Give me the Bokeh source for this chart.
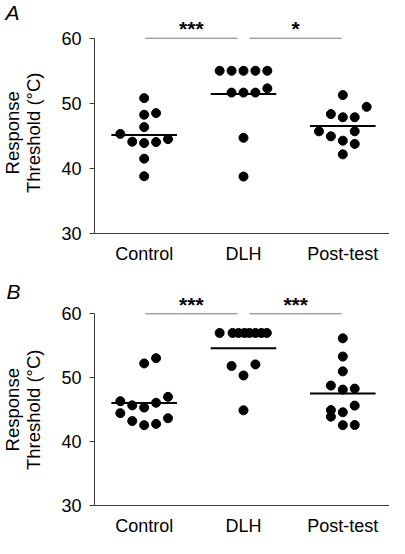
from bokeh.plotting import figure
from bokeh.models import Range1d, FixedTicker, Label
from bokeh.layouts import column, row
from bokeh.core.properties import value
from bokeh.embed import file_html
from bokeh.resources import INLINE

# ---------------- data ----------------
groups = ["Control", "DLH", "Post-test"]
y_ticks = [30, 40, 50, 60]
y_title = ["Response", "Threshold (°C)"]

# Panel A
a_ctrl = [50.8, 48.25, 48.5, 46.35, 45.3, 44.1, 43.9, 44.05, 44.5, 41.5, 38.8]
a_ctrl_jit = [0, 0, 0.12, 0, -0.24, -0.12, 0, 0.12, 0.24, 0, 0]
a_dlh = [55, 55, 55, 55, 55, 51.65, 51.65, 51.65, 52.3, 44.7, 38.75]
a_dlh_jit = [-0.24, -0.12, 0, 0.12, 0.24, -0.12, 0, 0.12, 0.24, 0, 0]
a_post = [51.27, 49.46, 48.35, 47.86, 47.86, 45.7, 45.7, 44.93, 44.26, 43.77, 42.16]
a_post_jit = [0, 0.24, -0.12, 0, 0.12, -0.24, 0.12, -0.12, 0, 0.12, 0]
a_means = [45.15, 51.45, 46.5]
a_sig = ["***", "*"]

# Panel B
b_ctrl = [52.23, 53.06, 46.32, 47.0, 45.67, 45.33, 46.07, 44.45, 43.22, 42.57, 42.77, 43.66]
b_ctrl_jit = [0, 0.12, -0.24, 0.24, -0.12, 0, 0.12, -0.24, -0.12, 0, 0.12, 0.24]
b_dlh = [57, 57, 57, 57, 57, 57, 57, 57, 51.83, 52.08, 50.35, 44.9]
b_dlh_jit = [-0.24, -0.11, -0.05, 0.01, 0.06, 0.12, 0.18, 0.235, -0.12, 0.12, 0, 0]
b_post = [56.16, 53.31, 50.99, 48.77, 48.14, 48.29, 45.63, 44.93, 44.59, 43.9, 42.57, 42.6]
b_post_jit = [0, 0, 0, -0.12, 0, 0.12, 0.12, -0.12, 0, -0.12, 0, 0.12]
b_means = [46.05, 54.62, 47.52]
b_sig = ["***", "***"]

# comparisons: (from group, to group)
pairs = [(1, 2), (2, 3)]

FONT = "Liberation Sans"
AXIS_COL = "#3a3a3a"
LEFT_W = 48


def make_side(letter, height, letter_xy, title_y):
    s = figure(width=LEFT_W, height=height, output_backend="svg", toolbar_location=None,
               x_range=Range1d(0, LEFT_W), y_range=Range1d(0, height),
               x_axis_location=None, y_axis_location=None,
               min_border=0)
    s.outline_line_color = None
    s.grid.visible = False
    s.add_layout(Label(x=letter_xy[0], y=height - letter_xy[1], text=letter,
                       text_font=FONT, text_font_size="21px", text_font_style="italic",
                       text_align="center", text_baseline="middle", text_color="black"))
    for xx, t in zip([12, 33], y_title):
        s.add_layout(Label(x=xx, y=height - title_y, text=t, angle=1.5708, text_font=FONT,
                           text_font_size="18.5px", text_align="center",
                           text_baseline="middle", text_color="black"))
    return s


def make_panel(series, jits, means, sig, height, y_end, bottom):
    p = figure(width=389 - LEFT_W, height=height, output_backend="svg", toolbar_location=None,
               x_range=Range1d(0.5, 3.47), y_range=Range1d(30, y_end),
               min_border_left=94 - LEFT_W, min_border_right=0, min_border_top=0,
               min_border_bottom=bottom)
    p.outline_line_color = None
    p.grid.visible = False

    # y axis
    ya = p.yaxis[0]
    ya.ticker = FixedTicker(ticks=y_ticks)
    ya.bounds = (30, 60)
    ya.axis_line_color = AXIS_COL
    ya.major_tick_line_color = AXIS_COL
    ya.major_tick_out = 5
    ya.major_tick_in = 0
    ya.minor_tick_line_color = None
    ya.major_label_text_font = FONT
    ya.major_label_text_font_size = "18px"
    ya.major_label_text_color = "black"
    ya.major_label_standoff = 8

    # x axis
    xa = p.xaxis[0]
    xa.ticker = FixedTicker(ticks=[1, 2, 3])
    xa.major_label_overrides = {i + 1: g for i, g in enumerate(groups)}
    xa.axis_line_color = AXIS_COL
    xa.major_tick_line_color = None
    xa.minor_tick_line_color = None
    xa.major_label_text_font = FONT
    xa.major_label_text_font_size = "18px"
    xa.major_label_text_color = "black"
    xa.major_label_standoff = 4

    # points
    for gi, (vals, jit) in enumerate(zip(series, jits)):
        xs = [gi + 1 + j for j in jit]
        p.scatter(xs, vals, size=9, color="black", line_color="black")

    # mean lines
    cats = [1, 2, 3]
    p.segment(x0=[c - 0.33 for c in cats], x1=[c + 0.33 for c in cats],
              y0=means, y1=means, line_color="black", line_width=2)

    # significance lines and stars
    x0 = [pairs[0][0] + 0.01, pairs[1][0] + 0.06]
    x1 = [pairs[0][1] - 0.06, pairs[1][1] - 0.01]
    p.segment(x0=x0, x1=x1, y0=[60, 60], y1=[60, 60], line_color="#7a7a7a", line_width=1)
    p.text(x=[(a + b) / 2 for a, b in zip(x0, x1)], y=[61.5, 61.5], text=sig,
           text_font=value(FONT), text_font_size="21px", text_font_style="bold",
           text_align="center", text_baseline="alphabetic", text_color="black")
    return p


pa = make_panel([a_ctrl, a_dlh, a_post], [a_ctrl_jit, a_dlh_jit, a_post_jit],
                a_means, a_sig, height=266, y_end=65.8, bottom=28)
pb = make_panel([b_ctrl, b_dlh, b_post], [b_ctrl_jit, b_dlh_jit, b_post_jit],
                b_means, b_sig, height=272, y_end=67.4, bottom=26)
sa = make_side("A", 266, (12, 14), 151)
sb = make_side("B", 272, (13, 28), 163)

p = column(row(sa, pa, spacing=0), row(sb, pb, spacing=0), spacing=0)
open("out.html", "w").write(file_html(p, INLINE))
